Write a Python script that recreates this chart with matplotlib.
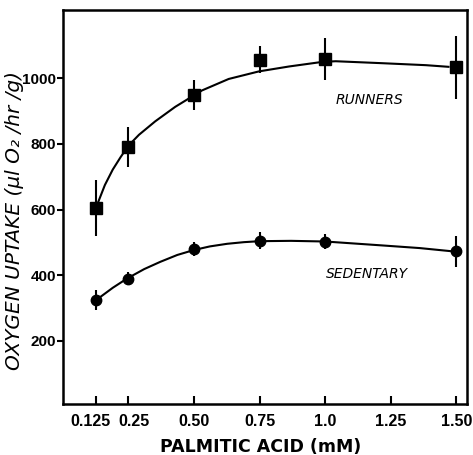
import matplotlib
matplotlib.use('Agg')
import matplotlib.pyplot as plt
import matplotlib.transforms as mtransforms

# palmitic acid concentration (mM)
conc = [0.125, 0.25, 0.50, 0.75, 1.0, 1.50]

runners = [604, 791, 949, 1057, 1059, 1033]
runners_err = [85, 60, 45, 40, 65, 97]
sedentary = [324, 390, 480, 506, 503, 473]
sedentary_err = [30, 20, 20, 27, 22, 47]

# hand-drawn fitted curves
runners_fit_x = [0.135, 0.16, 0.19, 0.22, 0.25, 0.29, 0.352, 0.428, 0.530, 0.632, 0.747, 0.862, 0.989, 1.04, 1.218, 1.384, 1.47]
runners_fit_y = [624, 675, 722, 760, 795, 828, 869, 913, 963, 998, 1021, 1036, 1050, 1052, 1046, 1040, 1035]
sed_fit_x = [0.129, 0.19, 0.244, 0.31, 0.371, 0.436, 0.499, 0.56, 0.626, 0.69, 0.75, 0.87, 1.0, 1.218, 1.36, 1.486]
sed_fit_y = [326, 362, 390, 419, 441, 462, 477, 488, 496, 501, 504, 505, 503, 491, 483, 473]

xticks = [0.125, 0.25, 0.50, 0.75, 1.0, 1.25, 1.50]
xticklabels = ['0.125', '0.25', '0.50', '0.75', '1.0', '1.25', '1.50']
yticks = [200, 400, 600, 800, 1000]

fig = plt.figure(figsize=(4.73, 4.55), dpi=100)
ax = fig.add_axes([0.133, 0.112, 0.854, 0.866])

ax.plot(runners_fit_x, runners_fit_y, color='black', lw=1.5, zorder=1)
ax.plot(sed_fit_x, sed_fit_y, color='black', lw=1.5, zorder=1)

ax.errorbar(conc, runners, yerr=runners_err, fmt='s', color='black', ms=8,
            elinewidth=1.5, capsize=0, zorder=3)
ax.errorbar(conc, sedentary, yerr=sedentary_err, fmt='o', color='black', ms=7.5,
            elinewidth=1.5, capsize=0, zorder=3)

ax.text(1.167, 933, 'RUNNERS', style='italic', fontsize=10, ha='center', va='center')
ax.text(1.16, 403, 'SEDENTARY', style='italic', fontsize=10, ha='center', va='center')

ax.set_xlim(0, 1.54)
ax.set_ylim(8, 1208)
ax.set_xticks(xticks)
ax.set_xticklabels(xticklabels)
ax.set_yticks(yticks)

for s in ax.spines.values():
    s.set_linewidth(1.8)
ax.tick_params(axis='x', direction='in', length=6, width=1.5, labelsize=11.5, pad=7)
ax.tick_params(axis='y', direction='out', length=4, width=1.5, labelsize=11, pad=1)
for lab in ax.get_xticklabels() + ax.get_yticklabels():
    lab.set_fontfamily('Liberation Sans')
    lab.set_fontweight('bold')

# the two crowded labels at the left sit slightly apart
xl = ax.get_xticklabels()
xl[0].set_transform(xl[0].get_transform() + mtransforms.ScaledTranslation(-4 / 72, 0, fig.dpi_scale_trans))
xl[1].set_transform(xl[1].get_transform() + mtransforms.ScaledTranslation(4 / 72, 0, fig.dpi_scale_trans))

ax.set_xlabel('PALMITIC ACID (mM)', fontsize=12.5, fontweight='bold')
ax.xaxis.set_label_coords(0.49, -0.087)
ax.set_ylabel('OXYGEN UPTAKE (µl O₂ /hr /g)', fontsize=14.5, style='italic')
ax.yaxis.set_label_coords(-0.097, 0.465)

fig.savefig('out.png', dpi=100)
